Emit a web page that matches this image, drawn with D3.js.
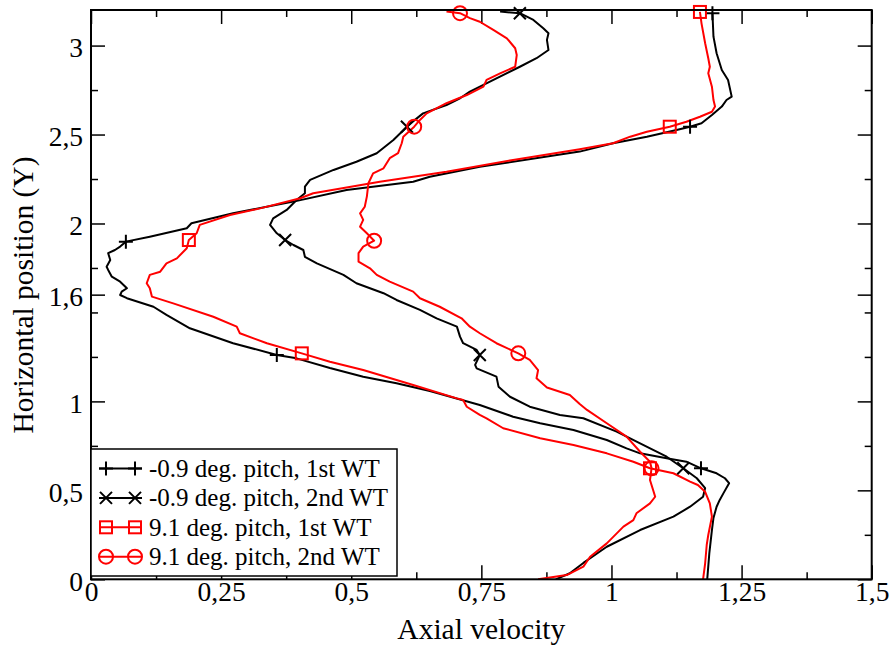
<!DOCTYPE html>
<html>
<head>
<meta charset="utf-8">
<script src="https://cdn.jsdelivr.net/npm/d3@7"></script>
<style>
  body { margin: 0; background: #fff; }
  text { font-family: "Liberation Serif", "Times New Roman", serif; fill: #000; }
</style>
</head>
<body>
<svg id="chart"></svg>
<script>
const width = 893;
const height = 646;

// tick values
const xMajor = [0, 0.25, 0.5, 0.75, 1, 1.25, 1.5];
const xMinor = [0.125, 0.375, 0.625, 0.875, 1.125, 1.375];
const yMajor = [0, 0.5, 1, 1.6, 2, 2.5, 3];
const yMinor = [0.25, 0.75, 1.25, 1.5, 1.75, 2.25, 2.75];

// series as [axial velocity, horizontal position]
const pitchLow1st = [
  [1.184,0],[1.188,0.146],[1.193,0.277],[1.196,0.345],[1.202,0.408],[1.208,0.446],[1.215,0.483],
  [1.226,0.540],[1.218,0.568],[1.202,0.596],[1.172,0.624],[1.144,0.661],[1.106,0.680],[1.055,0.708],
  [1.029,0.736],[0.991,0.783],[0.927,0.839],[0.863,0.877],[0.811,0.914],[0.747,0.980],[0.651,1.058],
  [0.587,1.102],[0.523,1.139],[0.459,1.188],[0.395,1.242],[0.357,1.261],[0.273,1.327],[0.190,1.411],
  [0.145,1.486],[0.120,1.532],[0.069,1.580],[0.056,1.598],[0.059,1.617],[0.069,1.636],[0.056,1.673],
  [0.040,1.701],[0.033,1.739],[0.030,1.757],[0.037,1.795],[0.033,1.833],[0.046,1.851],[0.056,1.870],
  [0.067,1.898],[0.113,1.926],[0.184,1.973],[0.193,2.001],[0.273,2.057],[0.389,2.123],[0.491,2.188],
  [0.619,2.235],[0.651,2.263],[0.747,2.319],[0.939,2.404],[1.003,2.451],[1.068,2.488],[1.125,2.526],
  [1.151,2.544],[1.173,2.563],[1.193,2.610],[1.212,2.657],[1.221,2.694],[1.231,2.713],[1.224,2.807],
  [1.212,2.863],[1.202,2.957],[1.196,3.050],[1.194,3.182]
];
const pitchLow2nd = [
  [0.893,0],[0.920,0.034],[0.946,0.092],[0.991,0.183],[1.055,0.277],[1.119,0.352],[1.151,0.408],
  [1.176,0.464],[1.180,0.513],[1.164,0.568],[1.138,0.624],[1.106,0.689],[1.055,0.764],[1.010,0.830],
  [0.946,0.905],[0.901,0.924],[0.843,0.970],[0.805,1.026],[0.783,1.083],[0.779,1.139],[0.741,1.186],
  [0.738,1.205],[0.747,1.261],[0.741,1.289],[0.715,1.327],[0.709,1.364],[0.703,1.420],[0.664,1.467],
  [0.632,1.514],[0.587,1.570],[0.562,1.608],[0.510,1.664],[0.485,1.711],[0.434,1.776],[0.411,1.813],
  [0.408,1.851],[0.389,1.879],[0.373,1.907],[0.357,1.945],[0.344,1.992],[0.350,2.029],[0.376,2.076],
  [0.395,2.132],[0.411,2.170],[0.411,2.207],[0.421,2.245],[0.466,2.301],[0.510,2.347],[0.549,2.395],
  [0.581,2.469],[0.607,2.544],[0.626,2.591],[0.638,2.619],[0.683,2.666],[0.709,2.704],[0.728,2.741],
  [0.754,2.779],[0.779,2.816],[0.824,2.881],[0.856,2.929],[0.879,2.975],[0.876,3.032],[0.879,3.069],
  [0.869,3.097],[0.850,3.144],[0.824,3.182],[0.786,3.191]
];
const pitchHigh1st = [
  [1.176,0],[1.180,0.090],[1.183,0.193],[1.186,0.249],[1.193,0.352],[1.189,0.427],[1.180,0.492],
  [1.166,0.530],[1.151,0.549],[1.119,0.596],[1.074,0.624],[1.042,0.661],[0.991,0.708],[0.927,0.755],
  [0.863,0.793],[0.792,0.849],[0.760,0.905],[0.747,0.924],[0.722,0.970],[0.715,1.008],[0.703,1.017],
  [0.619,1.092],[0.523,1.176],[0.459,1.223],[0.405,1.270],[0.338,1.327],[0.286,1.383],[0.280,1.420],
  [0.235,1.476],[0.158,1.551],[0.117,1.589],[0.113,1.636],[0.107,1.664],[0.113,1.711],[0.133,1.729],
  [0.145,1.776],[0.165,1.804],[0.184,1.861],[0.188,1.907],[0.203,1.945],[0.209,1.992],[0.267,2.048],
  [0.325,2.085],[0.402,2.142],[0.427,2.170],[0.555,2.235],[0.683,2.291],[0.811,2.357],[0.939,2.417],
  [1.003,2.451],[1.036,2.488],[1.068,2.516],[1.112,2.544],[1.144,2.572],[1.170,2.600],[1.193,2.628],
  [1.199,2.657],[1.196,2.694],[1.193,2.769],[1.186,2.844],[1.189,2.881],[1.186,2.929],[1.180,3.013],
  [1.173,3.125],[1.170,3.189]
];
const pitchHigh2nd = [
  [0.859,0],[0.914,0.024],[0.946,0.071],[0.959,0.127],[0.991,0.202],[1.023,0.296],[1.042,0.333],
  [1.048,0.371],[1.074,0.427],[1.084,0.464],[1.080,0.502],[1.074,0.558],[1.077,0.624],[1.074,0.661],
  [1.055,0.717],[1.029,0.802],[0.991,0.877],[0.953,0.952],[0.939,0.985],[0.920,1.036],[0.876,1.078],
  [0.856,1.130],[0.859,1.176],[0.843,1.233],[0.821,1.270],[0.779,1.327],[0.747,1.383],[0.728,1.420],
  [0.712,1.467],[0.670,1.532],[0.632,1.580],[0.619,1.617],[0.574,1.673],[0.549,1.711],[0.536,1.748],
  [0.514,1.785],[0.514,1.833],[0.523,1.870],[0.544,1.903],[0.530,1.945],[0.517,1.982],[0.523,2.020],
  [0.517,2.057],[0.526,2.094],[0.530,2.151],[0.533,2.226],[0.542,2.282],[0.562,2.310],[0.574,2.367],
  [0.590,2.395],[0.597,2.451],[0.600,2.488],[0.621,2.544],[0.632,2.582],[0.645,2.619],[0.683,2.676],
  [0.722,2.722],[0.754,2.769],[0.760,2.807],[0.786,2.844],[0.815,2.881],[0.818,2.947],[0.815,2.985],
  [0.799,3.041],[0.773,3.088],[0.747,3.134],[0.728,3.154],[0.709,3.182],[0.683,3.191]
];
// heights where the symbols sit
const markY = [0.624, 1.266, 1.905, 2.544, 3.185];

const series = [
  {name: '-0.9 deg. pitch, 1st WT', data: pitchLow1st, color: '#000', sym: 'plus'},
  {name: '-0.9 deg. pitch, 2nd WT', data: pitchLow2nd, color: '#000', sym: 'cross'},
  {name: '9.1 deg. pitch, 1st WT', data: pitchHigh1st, color: '#ff0000', sym: 'square'},
  {name: '9.1 deg. pitch, 2nd WT', data: pitchHigh2nd, color: '#ff0000', sym: 'circle'}
];

const margin = {left: 91, top: 10, right: 21.3, bottom: 66.7};
const plotW = width - margin.left - margin.right;
const plotH = height - margin.top - margin.bottom;

const svg = d3.select('#chart').attr('width', width).attr('height', height);
const g = svg.append('g').attr('transform', `translate(${margin.left},${margin.top})`);

const x = d3.scaleLinear().domain([0, 1.5]).range([0, plotW]);
const y = d3.scaleLinear().domain([0, 3.2]).range([plotH, 0]);
const fmt = d => String(d).replace('.', ',');

svg.append('defs').append('clipPath').attr('id', 'clip')
  .append('rect').attr('width', plotW).attr('height', plotH);

function styleAxis(sel, w) {
  sel.select('.domain').remove();
  sel.selectAll('line').attr('stroke', '#000').attr('stroke-width', w);
}

// major / minor ticks, all four sides, pointing inward
g.append('g').attr('transform', `translate(0,${plotH})`)
  .call(d3.axisBottom(x).tickValues(xMajor).tickSize(-14).tickPadding(2).tickFormat(fmt))
  .call(s => styleAxis(s, 1.5))
  .selectAll('text').style('font-size', '27.5px');
g.append('g').attr('transform', `translate(0,${plotH})`)
  .call(d3.axisBottom(x).tickValues(xMinor).tickSize(-7).tickFormat(''))
  .call(s => styleAxis(s, 1.5));
g.append('g')
  .call(d3.axisTop(x).tickValues(xMajor).tickSize(-14).tickFormat(''))
  .call(s => styleAxis(s, 1.5));
g.append('g')
  .call(d3.axisTop(x).tickValues(xMinor).tickSize(-7).tickFormat(''))
  .call(s => styleAxis(s, 1.5));

g.append('g')
  .call(d3.axisLeft(y).tickValues(yMajor).tickSize(-14).tickPadding(8).tickFormat(fmt))
  .call(s => styleAxis(s, 1.5))
  .selectAll('text').style('font-size', '27.5px').attr('dy', '0.4em');
g.append('g')
  .call(d3.axisLeft(y).tickValues(yMinor).tickSize(-7).tickFormat(''))
  .call(s => styleAxis(s, 1.5));
g.append('g').attr('transform', `translate(${plotW},0)`)
  .call(d3.axisRight(y).tickValues(yMajor).tickSize(-14).tickFormat(''))
  .call(s => styleAxis(s, 1.5));
g.append('g').attr('transform', `translate(${plotW},0)`)
  .call(d3.axisRight(y).tickValues(yMinor).tickSize(-7).tickFormat(''))
  .call(s => styleAxis(s, 1.5));

// curves
const line = d3.line().x(d => x(d[0])).y(d => y(d[1]));
const curves = g.append('g').attr('clip-path', 'url(#clip)');
series.forEach(s => {
  curves.append('path')
    .datum(s.data)
    .attr('d', line)
    .attr('fill', 'none')
    .attr('stroke', s.color)
    .attr('stroke-width', 2)
    .attr('stroke-linejoin', 'round');
});

function drawSymbol(parent, sym, cx, cy, color) {
  const k = parent.append('g').attr('transform', `translate(${cx},${cy})`)
    .attr('fill', 'none').attr('stroke', color).attr('stroke-width', 2);
  if (sym === 'plus') {
    k.append('path').attr('d', 'M-7,0H7M0,-7V7');
  } else if (sym === 'cross') {
    k.append('path').attr('d', 'M-6,-6L6,6M-6,6L6,-6');
  } else if (sym === 'square') {
    k.append('rect').attr('x', -6).attr('y', -6).attr('width', 12).attr('height', 12);
  } else {
    k.append('circle').attr('r', 7);
  }
}

// symbols on the nearest sample to each marker height
const marks = g.append('g');
series.forEach(s => {
  markY.forEach(my => {
    const p = s.data.reduce((a, b) => Math.abs(b[1] - my) < Math.abs(a[1] - my) ? b : a);
    drawSymbol(marks, s.sym, x(p[0]), y(p[1]), s.color);
  });
});

// frame
g.append('rect').attr('width', plotW).attr('height', plotH)
  .attr('fill', 'none').attr('stroke', '#000').attr('stroke-width', 2);

// legend
const legend = svg.append('g').attr('transform', 'translate(91,449)');
legend.append('rect').attr('width', 306).attr('height', 127)
  .attr('fill', '#fff').attr('stroke', '#000').attr('stroke-width', 1.5);
series.forEach((s, i) => {
  const ry = 19.5 + i * 29.4;
  legend.append('line').attr('x1', 8).attr('x2', 51).attr('y1', ry).attr('y2', ry)
    .attr('stroke', s.color).attr('stroke-width', 2);
  drawSymbol(legend, s.sym, 15, ry, s.color);
  drawSymbol(legend, s.sym, 44, ry, s.color);
  legend.append('text').attr('x', 58).attr('y', ry + 8.5)
    .style('font-size', '25px').text(s.name);
});

// axis titles
svg.append('text')
  .attr('x', margin.left + plotW / 2).attr('y', 639)
  .attr('text-anchor', 'middle').style('font-size', '29.5px')
  .text('Axial velocity');
svg.append('text')
  .attr('transform', 'translate(33,295) rotate(-90)')
  .attr('text-anchor', 'middle').style('font-size', '29.5px')
  .text('Horizontal position (Y)');
</script>
</body>
</html>
